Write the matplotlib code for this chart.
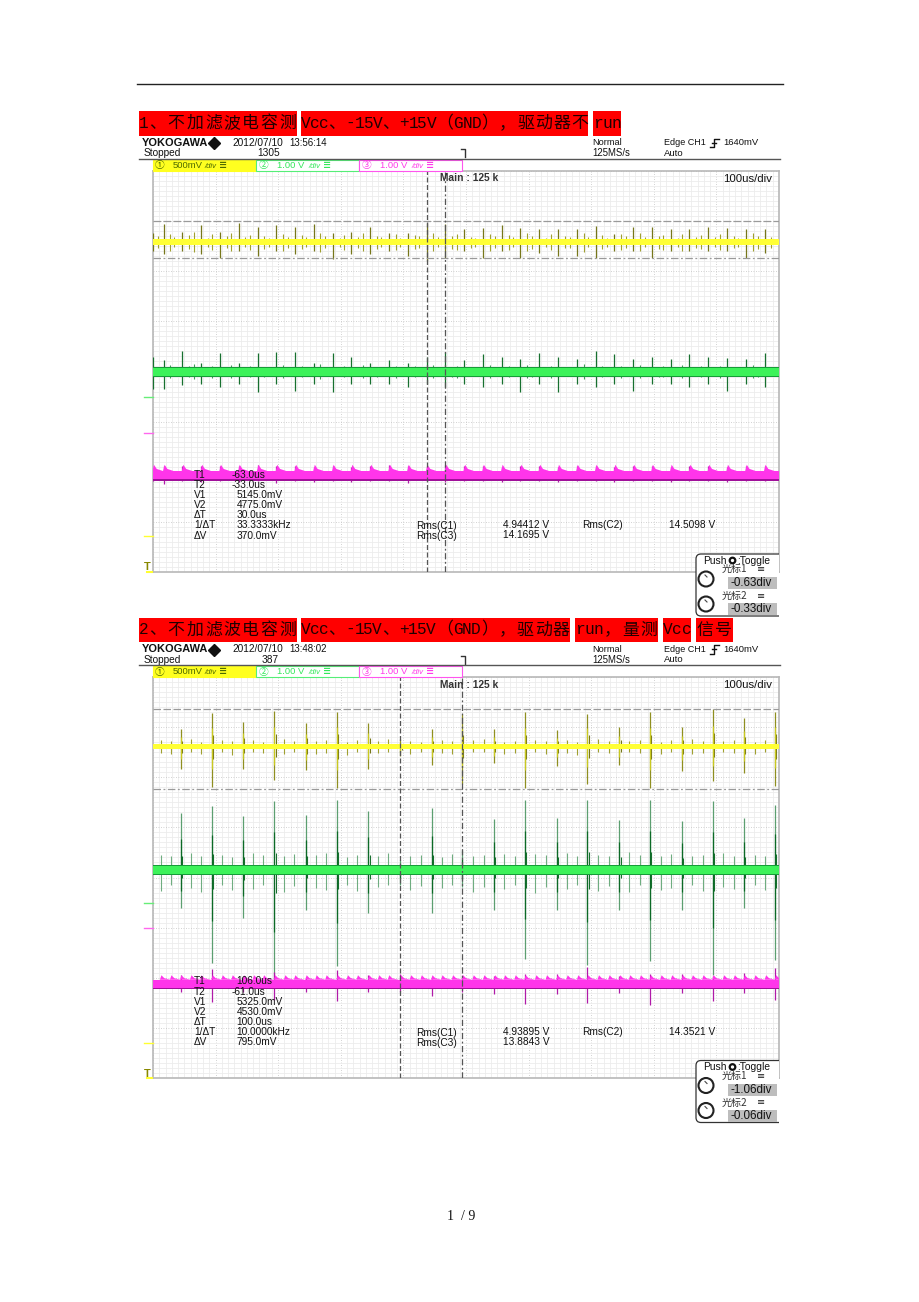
"""Two oscilloscope screenshots on a document page."""
import matplotlib
matplotlib.use("Agg")
import matplotlib.pyplot as plt
from matplotlib.patches import Rectangle, FancyBboxPatch, Circle
from matplotlib.ticker import MultipleLocator

W, H = 920, 1302

# ---- data (x in div, amplitudes in div) ----
titles = [
    ["1、不加滤波电容测", "Vcc、-15V、+15V（GND），驱动器不", "run"],
    ["2、不加滤波电容测", "Vcc、-15V、+15V（GND），驱动器", "run，量测", "Vcc", "信号"],
]
dates = ["2012/07/10", "2012/07/10"]
times = ["13:56:14", "13:48:02"]
count = ["1305", "387"]
rows = ["T1", "T2", "V1", "V2", "ΔT", "1/ΔT", "ΔV"]
vals_1 = ["-63.0us", "-33.0us", "5145.0mV", "4775.0mV", "30.0us", "33.3333kHz", "370.0mV"]
vals_2 = ["106.0us", "-61.0us", "5325.0mV", "4530.0mV", "100.0us", "10.0000kHz", "795.0mV"]
rms_1 = ["4.94412 V", "14.5098 V", "14.1695 V"]
rms_2 = ["4.93895 V", "14.3521 V", "13.8843 V"]
knobs_1 = ["-0.63div", "-0.33div"]
knobs_2 = ["-1.06div", "-0.06div"]

# first screen: spikes every 30us
x1 = [0.0, 0.17, 0.47, 0.77, 1.07, 1.37, 1.67, 1.97, 2.27, 2.57, 2.87, 3.17, 3.47, 3.77, 4.07, 4.37, 4.67,
      4.97, 5.27, 5.57, 5.87, 6.17, 6.47, 6.77, 7.07, 7.37, 7.67, 7.97, 8.27, 8.57, 8.87, 9.17, 9.47, 9.77]
y1_up = [.19, .36, .21, .35, .21, .39, .31, .35, .31, .37, .19, .21, .31, .19, .19, .39, .36,
         .26, .29, .34, .29, .26, .26, .26, .33, .16, .31, .31, .26, .26, .31, .28, .26, .26]
y1_dn = [.17, .24, .17, .24, .31, .17, .27, .17, .24, .17, .34, .24, .24, .17, .27, .37, .31,
         .17, .31, .17, .31, .21, .27, .27, .31, .17, .17, .31, .17, .17, .17, .17, .31, .21]
g1_up = [.30, .23, .42, .17, .37, .17, .38, .40, .40, .17, .37, .30, .17, .23, .17, .30, .40,
         .23, .35, .30, .25, .38, .30, .25, .42, .35, .25, .30, .25, .35, .30, .28, .25, .38]
g1_dn = [.33, .33, .25, .23, .30, .23, .40, .23, .37, .23, .40, .23, .23, .23, .30, .23, .30,
         .23, .30, .23, .40, .23, .40, .23, .30, .23, .37, .23, .23, .30, .23, .37, .23, .30]
m1_up = [.12, .20, .19, .20, .19, .20, .22, .19, .20, .18, .19, .18, .19, .21, .19, .19, .21,
         .20, .19, .18, .19, .20, .18, .19, .20, .18, .19, .20, .18, .19, .20, .18, .19, .20]
m1_dn = [.10, .17, .10, .12, .10, .12, .11, .14, .10, .12, .10, .12, .10, .11, .14, .10, .12,
         .10, .11, .12, .10, .11, .12, .10, .11, .12, .10, .11, .12, .10, .11, .12, .10, .11]
x1_small = [.08, .27, .34, .58, .66, .88, .95, 1.18, 1.25, 1.47, 1.55, 1.78, 1.86, 2.08, 2.15, 2.38, 2.45,
            2.67, 2.75, 2.98, 3.05, 3.27, 3.36, 3.58, 3.65, 3.88, 3.95, 4.18, 4.25, 4.48, 4.55, 4.78, 4.86,
            5.08, 5.15, 5.38, 5.46, 5.68, 5.75, 5.98, 6.05, 6.28, 6.35, 6.58, 6.66, 6.88, 6.95, 7.18, 7.25,
            7.48, 7.55, 7.78, 7.86, 8.08, 8.15, 8.38, 8.45, 8.68, 8.75, 8.98, 9.05, 9.28, 9.35, 9.58, 9.66, 9.88]
h1_small = [.12, .17, .10, .14, .20, .09, .16, .12, .18, .10, .15, .13, .09, .17, .11, .14, .10,
            .19, .12, .09, .15, .11, .18, .13, .10, .16, .09, .14, .12, .18, .10, .13, .16,
            .11, .09, .17, .12, .15, .10, .18, .13, .09, .16, .12, .11, .19, .10, .14, .09,
            .16, .12, .18, .10, .13, .15, .09, .17, .11, .14, .10, .16, .12, .09, .18, .13, .11]

# second screen: big spikes every 50us, two small ones between them
x2 = [.44, .94, 1.44, 1.94, 2.44, 2.94, 3.44, 3.95, 4.45, 4.94,
      5.45, 5.94, 6.45, 6.94, 7.45, 7.94, 8.45, 8.94, 9.44, 9.94]
y2_up = [.35, .68, .50, .71, .47, .70, .48, .15, .35, .65, .35, .69, .33, .66, .39, .69, .40, .76, .57, .70]
y2_dn = [.44, .81, .45, .67, .47, .83, .44, .19, .37, .75, .33, .83, .39, .75, .37, .83, .49, .69, .52, .79]
g2_up = [1.13, 1.28, 1.07, 1.37, 1.10, 1.40, 1.18, .20, 1.23, .40,
         1.02, 1.40, 1.03, 1.40, 1.00, 1.40, .97, 1.38, 1.03, 1.30]
g2_dn = [.75, 1.85, .95, 2.25, .80, 1.91, .85, .30, .85, .33,
         .79, 1.77, .80, 1.90, .79, 1.81, .79, 2.10, .75, 1.80]
m2_up = [.18, .31, .15, .25, .13, .28, .18, .21, .11, .18, .17, .21, .21, .35, .17, .21, .21, .17, .23, .33]
m2_dn = [.15, .35, .15, .32, .15, .33, .15, .15, .24, .15, .20, .40, .20, .38, .17, .41, .17, .33, .17, .31]
x2_small = [.12, .28, .60, .76, 1.10, 1.26, 1.60, 1.76, 2.10, 2.26, 2.60, 2.76, 3.10, 3.26, 3.60, 3.76,
            4.11, 4.28, 4.61, 4.78, 5.11, 5.28, 5.61, 5.78, 6.11, 6.28, 6.61, 6.78, 7.11, 7.28, 7.61, 7.78,
            8.11, 8.28, 8.61, 8.78, 9.11, 9.28, 9.61, 9.78]
g2s_up = [.30, .27, .33, .28, .30, .26, .34, .30, .27, .31, .29, .33, .26, .30, .28, .33,
          .27, .30, .25, .31, .28, .30, .32, .27, .31, .29, .33, .27, .30, .28, .35, .30,
          .28, .31, .27, .30, .33, .27, .30, .28]
g2s_dn = [.42, .30, .36, .44, .30, .40, .38, .30, .44, .32, .36, .40, .30, .42, .34, .30,
          .40, .32, .36, .30, .44, .34, .38, .30, .46, .34, .38, .30, .42, .32, .44, .30,
          .40, .36, .30, .42, .34, .38, .30, .40]
y2s_up = [.14, .11, .15, .10, .13, .12, .14, .10, .15, .11, .12, .14, .10, .13, .11, .15,
          .12, .10, .14, .11, .13, .15, .10, .12, .14, .11, .13, .10, .15, .12, .11, .14,
          .10, .13, .15, .11, .12, .14, .10, .13]
y2s_dn = [.12, .15, .10, .14, .11, .16, .10, .13, .15, .10, .14, .12, .16, .10, .13, .11,
          .15, .10, .12, .14, .10, .11, .15, .13, .10, .14, .12, .16, .10, .13, .11, .12,
          .14, .10, .15, .12, .10, .13, .15, .11]


def add_spikes(ax, xs, base, up, dn, color, lw=0.8, z=3):
    ax.vlines(xs, [base - d for d in dn], [base + u for u in up], color=color, lw=lw, zorder=z)


def two_tone(ax, xs, base, up, dn, light, dark, lw=0.9):
    # long spikes are pale at the far end and dark close to the trace
    add_spikes(ax, xs, base, up, dn, light, lw)
    add_spikes(ax, xs, base, [u * .55 for u in up], [d * .55 for d in dn], dark, lw, 4)


def band(ax, centre, half, color, fringe=None, above=.03, below=.03):
    if fringe:
        ax.fill_between([0, 10], centre - half - below, centre + half + above, color=fringe, lw=0, zorder=5)
    ax.fill_between([0, 10], centre - half, centre + half, color=color, lw=0, zorder=5)


def scallops(ax, xs, top, h, color):
    for x in xs:
        ax.fill([x - .01, x + .015, x + .06, x + .17], [top, top + h, top + .35 * h, top],
                color=color, lw=0, zorder=5)


fig = plt.figure(figsize=(W / 100, H / 100), dpi=100, facecolor="white")


def scope_axes(top):
    ax = fig.add_axes([153 / W, 1 - (top + 401) / H, 626 / W, 401 / H])
    ax.set_xlim(0, 10)
    ax.set_ylim(-4, 4)
    ax.xaxis.set_major_locator(MultipleLocator(1))
    ax.yaxis.set_major_locator(MultipleLocator(1))
    ax.xaxis.set_minor_locator(MultipleLocator(.1))
    ax.yaxis.set_minor_locator(MultipleLocator(.1))
    ax.grid(which="minor", color="#ececec", lw=0.6)
    ax.grid(which="major", color="#c4c4c4", lw=0.6, ls=(0, (1, 2)))
    ax.set_axisbelow(True)
    ax.tick_params(which="both", length=0, labelbottom=False, labelleft=False)
    for s in ax.spines.values():
        s.set_color("#b8b8b8")
        s.set_linewidth(1.2)
    return ax


# first screen
a1 = scope_axes(171)
add_spikes(a1, x1_small, 2.58, h1_small, h1_small, "#a0a030")
add_spikes(a1, x1, 2.58, y1_up, y1_dn, "#77771a", 0.9)
band(a1, 2.58, .055, "#ffff35")
add_spikes(a1, x1_small, -.01, [h * .8 for h in h1_small], [h * .7 for h in h1_small], "#3f9a58")
add_spikes(a1, x1, -.01, g1_up, g1_dn, "#17702f", 0.9)
band(a1, -.01, .075, "#3df25a", "#169c38")
add_spikes(a1, x1, -2.08, m1_up, m1_dn, "#b01aa8", 0.9)
band(a1, -2.07, .08, "#ff35ea", "#a0109a", above=0, below=.03)
scallops(a1, x1, -1.99, .13, "#ff35ea")
a1.axhline(3.0, color="#9a9a9a", lw=0.9, ls=(0, (6, 2)), zorder=6)
a1.axhline(2.26, color="#9a9a9a", lw=0.9, ls=(0, (6, 2, 1.5, 2)), zorder=6)
a1.axvline(4.37, color="#555555", lw=0.9, ls=(0, (4, 2)), zorder=6)
a1.axvline(4.67, color="#555555", lw=0.9, ls=(0, (5, 2, 1.5, 2)), zorder=6)

# second screen
a2 = scope_axes(677)
add_spikes(a2, x2_small, 2.61, y2s_up, y2s_dn, "#a0a030")
two_tone(a2, x2, 2.61, y2_up, y2_dn, "#8f8f20", "#c9c920")
add_spikes(a2, [x + .02 for x in x2], 2.61, [u * .35 for u in y2_up], [d * .3 for d in y2_dn], "#77771a")
band(a2, 2.61, .055, "#ffff35")
add_spikes(a2, x2_small, .15, g2s_up, g2s_dn, "#6fad80")
two_tone(a2, x2, .15, g2_up, g2_dn, "#5c9f70", "#0c6a26")
add_spikes(a2, [x + .02 for x in x2], .15, [u * .25 for u in g2_up], [d * .2 for d in g2_dn], "#17702f")
band(a2, .15, .075, "#3df25a", "#169c38")
add_spikes(a2, x2, -2.13, m2_up, m2_dn, "#b01aa8", 0.9)
band(a2, -2.12, .08, "#ff35ea", "#a0109a", above=0, below=.03)
scallops(a2, x2_small + x2, -2.04, .09, "#ff35ea")
a2.axhline(3.37, color="#9a9a9a", lw=0.9, ls=(0, (6, 2)), zorder=6)
a2.axhline(1.77, color="#9a9a9a", lw=0.9, ls=(0, (6, 2, 1.5, 2)), zorder=6)
a2.axvline(3.95, color="#555555", lw=0.9, ls=(0, (4, 2)), zorder=6)
a2.axvline(4.94, color="#555555", lw=0.9, ls=(0, (5, 2, 1.5, 2)), zorder=6)

# page layer, pixel coordinates for everything that is not a trace
pg = fig.add_axes([0, 0, 1, 1], facecolor="none")
pg.set_xlim(0, W)
pg.set_ylim(H, 0)
pg.axis("off")

SCREEN = "Liberation Sans"
CJK = ["Noto Sans CJK SC", "DejaVu Sans"]


def label(x, y, s, size=7.3, color="#111111", **kw):
    kw.setdefault("family", SCREEN)
    pg.text(x, y, s, fontsize=size, color=color, va="center", **kw)


def title_run(x0, x1_, top, s):
    pg.add_patch(Rectangle((x0, top), x1_ - x0, 24.5, color="#ff0000", lw=0))
    # half-width latin, full-width chinese, fitted into the red box
    units = sum(1 if ord(c) < 128 else 2 for c in s)
    pitch = (x1_ - x0) / units
    x = x0
    for ch in s:
        if ord(ch) < 128:
            pg.text(x + pitch / 2, top + 12, ch, fontsize=11.6, family="Liberation Mono",
                    ha="center", va="center", color="#200000")
            x += pitch
        else:
            pg.text(x + pitch, top + 12, ch, fontsize=12.2, family=CJK,
                    ha="center", va="center", color="#200000")
            x += 2 * pitch


pg.plot([137, 783], [84, 84], color="#222222", lw=1)
pg.text(461, 1216, "1  / 9", fontsize=10, family="Liberation Serif", ha="center", va="center", color="#111111")

title_run(139, 297, 111, titles[0][0])
title_run(301, 588.5, 111, titles[0][1])
title_run(593, 621.5, 111, titles[0][2])
title_run(139, 297, 617.5, titles[1][0])
title_run(301, 570, 617.5, titles[1][1])
title_run(575, 658, 617.5, titles[1][2])
title_run(663, 691, 617.5, titles[1][3])
title_run(696, 733, 617.5, titles[1][4])


def chrome(dy, date, when, n, vals, rms, knobs):
    # dy shifts the shared layout of the first screen down to the second one
    label(142, 143 + dy, "YOKOGAWA", 7.9, fontweight="bold")
    pg.plot([214], [143 + dy], marker="D", ms=6.2, color="#111111")
    label(232, 142.5 + dy, date)
    label(289, 142.5 + dy, when, 7)
    label(144, 153.5 + dy, "Stopped")
    label(257 if n == "1305" else 262, 153.5 + dy, n)
    label(592.5, 142.5 + dy, "Normal", 6.6)
    label(592.5, 153.5 + dy, "125MS/s", 6.9)
    label(664, 142.5 + dy, "Edge CH1", 6.5)
    label(723, 142.5 + dy, "1640mV", 6.8)
    label(664, 153.5 + dy, "Auto", 6.8)
    pg.plot([710, 714, 714, 719], [147 + dy, 147 + dy, 138.5 + dy, 138.5 + dy], color="#111111", lw=1)
    pg.plot([712, 716], [142.5 + dy, 142.5 + dy], color="#111111", lw=1)
    pg.plot([461, 465, 465], [149 + dy, 149 + dy, 157 + dy], color="#333333", lw=1)
    pg.plot([139, 780], [158.5 + dy, 158.5 + dy], color="#555555", lw=1)

    pg.add_patch(Rectangle((153, 159.5 + dy), 103, 11, fc="#ffff20", ec="#ffff20", lw=0.8))
    pg.add_patch(Rectangle((256.5, 159.5 + dy), 103, 11, fc="white", ec="#55ee77", lw=0.8))
    pg.add_patch(Rectangle((359.5, 159.5 + dy), 103, 11, fc="white", ec="#ff55ee", lw=0.8))
    for x0, mark, s, col in [(155, "①", "500mV", "#4d6a00"), (259, "②", "1.00 V", "#33e85a"),
                             (362, "③", "1.00 V", "#ff3aea")]:
        label(x0, 165 + dy, mark, 7, col, family=CJK)
        label(x0 + 18, 165 + dy, s, 6.8, col)
        label(x0 + 49, 166 + dy, "/div", 5.6, col, style="italic")
        label(x0 + 64, 164.5 + dy, "≡", 7, col, fontweight="bold", family="DejaVu Sans")

    label(440, 178 + dy, "Main : 125 k", 7.4, fontweight="bold", color="#333333")
    label(772, 179 + dy, "100us/div", 8.2, ha="right")

    # channel ground markers left of the grid
    for y, col in [(397 if dy == 0 else 396.5, "#66ee77"), (433 if dy == 0 else 421.5, "#ff66ee"),
                   (536, "#ffff30")]:
        pg.plot([144, 153], [y + dy, y + dy], color=col, lw=1)
    label(144, 567.5 + dy, "T", 8, "#888800", fontweight="bold")
    pg.plot([147, 152], [571.5 + dy, 571.5 + dy], color="#ffff30", lw=1.5)

    for i, (r, v) in enumerate(zip(rows, vals)):
        y = 475 + i * 10.1 + dy
        label(194, y, r)
        label(232 if v.startswith("-") else 236.5, y, v)
    label(416, 526 + dy, "Rms(C1)")
    label(416, 536 + dy, "Rms(C3)")
    label(503, 525.5 + dy, rms[0])
    label(503, 535.5 + dy, rms[2])
    label(582, 525.5 + dy, "Rms(C2)")
    label(669, 525.5 + dy, rms[1])

    # knob panel, open on its right side
    box = FancyBboxPatch((699, 557 + dy), 100, 56, boxstyle="round,pad=3,rounding_size=5",
                         fc="white", ec="#333333", lw=0.9, zorder=3)
    pg.add_patch(box)
    box.set_clip_path(Rectangle((690, 550 + dy), 89.5, 70, transform=pg.transData))
    label(703, 560.5 + dy, "Push", 7.4, zorder=4)
    pg.add_patch(Circle((732.5, 560.5 + dy), 2.8, fc="white", ec="#111111", lw=1.6, zorder=4))
    label(737, 560.5 + dy, ":Toggle", 7.4, zorder=4)
    for y, box_y, knob_y, name, v in [(569, 577, 579, "光标1", knobs[0]), (596, 603, 604, "光标2", knobs[1])]:
        label(722, y + dy, name, 7.2, "#333333", family=CJK, zorder=4)
        label(757, y + dy, "≡", 7, "#222222", family="DejaVu Sans", zorder=4)
        pg.add_patch(Rectangle((728, box_y + dy), 49, 12, fc="#bdbdbd", lw=0, zorder=3))
        label(731, box_y + 6.2 + dy, v, 8.4, zorder=4)
        pg.add_patch(Circle((706, knob_y + dy), 7.5, fc="white", ec="#222222", lw=1.5, zorder=4))
        pg.plot([705, 707], [knob_y - 4 + dy, knob_y - 2 + dy], color="#444444", lw=0.8, zorder=5)


chrome(0, dates[0], times[0], count[0], vals_1, rms_1, knobs_1)
chrome(506.5, dates[1], times[1], count[1], vals_2, rms_2, knobs_2)

fig.savefig("out.png", dpi=100)
